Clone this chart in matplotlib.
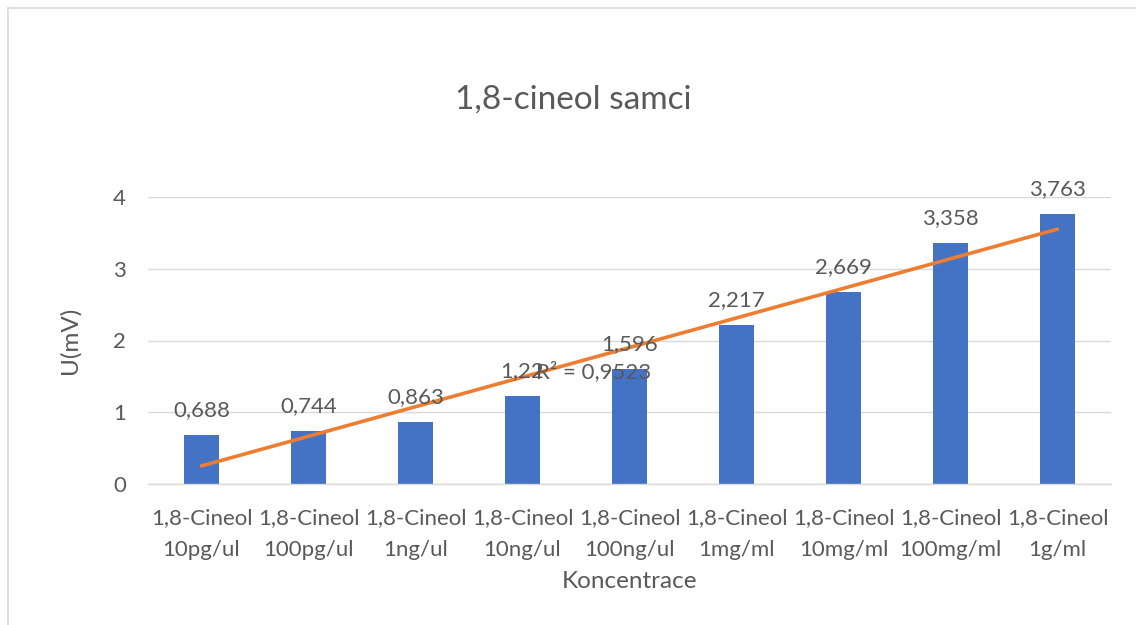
import matplotlib
matplotlib.use("Agg")
import matplotlib.pyplot as plt
import numpy as np
from matplotlib.lines import Line2D

categories = ["1,8-Cineol\n10pg/ul", "1,8-Cineol\n100pg/ul", "1,8-Cineol\n1ng/ul",
              "1,8-Cineol\n10ng/ul", "1,8-Cineol\n100ng/ul", "1,8-Cineol\n1mg/ml",
              "1,8-Cineol\n10mg/ml", "1,8-Cineol\n100mg/ml", "1,8-Cineol\n1g/ml"]
values = [0.688, 0.744, 0.863, 1.22, 1.596, 2.217, 2.669, 3.358, 3.763]
labels = ["0,688", "0,744", "0,863", "1,22", "1,596", "2,217", "2,669", "3,358", "3,763"]
yticks = [0, 1, 2, 3, 4]
r2_text = "R² = 0,9523"

plt.rcParams['font.family'] = ['Lato', 'DejaVu Sans']
txt = '#595959'

fig = plt.figure(figsize=(11.36, 6.25), dpi=100)
ax = fig.add_axes([148/1136, 1-484/625, (1111-148)/1136, (484-197)/625])

x = np.arange(len(values))
ax.bar(x, values, width=0.32, color='#4472C4', zorder=2)

# linear trendline
coef = np.polyfit(x + 1, values, 1)
fit = np.polyval(coef, x + 1)
ax.plot(x, fit, color='#ED7D31', lw=2.6, zorder=4, solid_capstyle='round')

for xi, v, lab in zip(x, values, labels):
    ax.annotate(lab, (xi, v), xytext=(0, 18), textcoords='offset points',
                ha='center', va='center', fontsize=16, color=txt, zorder=5)

ax.text(3.13, 1.56, r2_text, ha='left', va='center',
        fontsize=16, color=txt, zorder=5)

ax.set_xlim(-0.5, len(values) - 0.5)
ax.set_ylim(0, 4)
ax.set_yticks(yticks)
ax.set_yticklabels([str(t) for t in yticks])
ax.set_xticks(x)
ax.set_xticklabels(categories, linespacing=1.75)
ax.tick_params(axis='both', length=0, labelsize=16, colors=txt)
ax.tick_params(axis='x', pad=17)
ax.tick_params(axis='y', pad=16)
ax.grid(axis='y', color='#d9d9d9', lw=1, zorder=0)
for s in ['top', 'right', 'left']:
    ax.spines[s].set_visible(False)
ax.spines['bottom'].set_color('#d9d9d9')
ax.spines['bottom'].set_linewidth(1)

ax.set_xlabel("Koncentrace", fontsize=17.5, color=txt)
ax.xaxis.set_label_coords(0.5, -(582-484)/287, transform=ax.transAxes)
ax.xaxis.label.set_va('center')
ax.set_ylabel("U(mV)", fontsize=17.5, color=txt)
ax.yaxis.set_label_coords((70-148)/963, 0.5, transform=ax.transAxes)
ax.yaxis.label.set_va('center')
fig.text(573/1136, 1-100/625, "1,8-cineol samci", ha='center', va='center',
         fontsize=24, color=txt)

# outer chart border (left and top)
fig.add_artist(Line2D([7.5/1136, 7.5/1136], [0, 1-8/625], color='#d9d9d9', lw=1.2,
                      transform=fig.transFigure))
fig.add_artist(Line2D([7.5/1136, 1], [1-8/625, 1-8/625], color='#d9d9d9', lw=1.2,
                      transform=fig.transFigure))

fig.savefig("out.png", dpi=100)
